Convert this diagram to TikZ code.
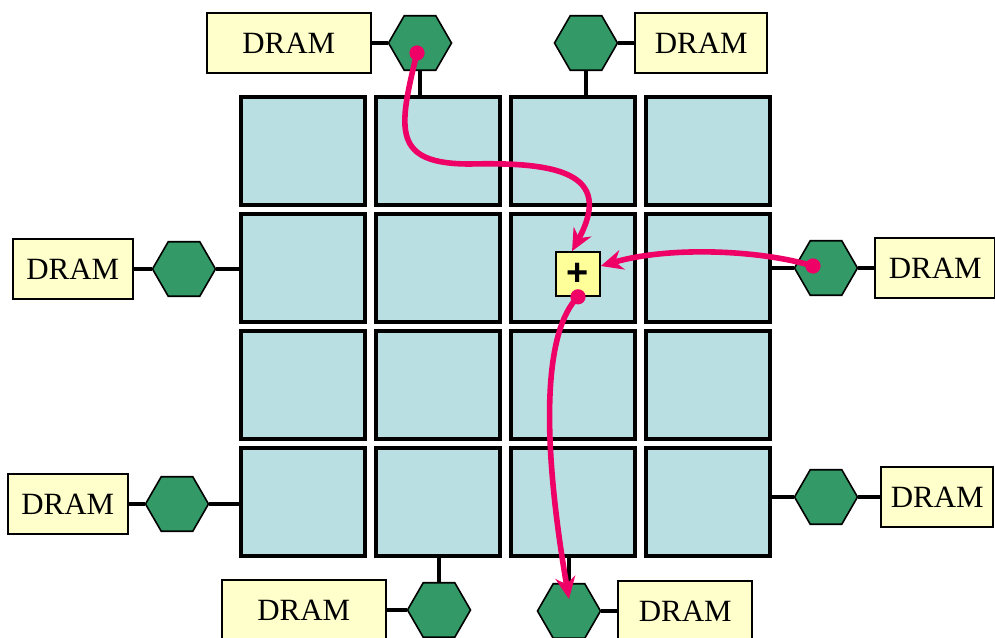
\documentclass[tikz,border=0pt]{standalone}
\usepackage{fontspec}
\setmainfont{Liberation Serif}
\newfontfamily\plusfont{Liberation Sans}
\usetikzlibrary{shapes.geometric,positioning,arrows.meta,calc}
\definecolor{tilecol}{HTML}{B9DFE3}
\definecolor{hexcol}{HTML}{339966}
\definecolor{dramcol}{HTML}{FFFFCC}
\definecolor{addcol}{HTML}{FFFF99}
\definecolor{flowcol}{HTML}{EE0066}

\begin{document}
\begin{tikzpicture}[x=0.025cm, y=-0.025cm, node distance=0.4cm,
    tilebox/.style={rectangle, draw, line width=0.1cm, fill=tilecol, minimum width=3.075cm, minimum height=2.675cm, inner sep=0pt},
    hexport/.style={regular polygon, regular polygon sides=6, draw, line width=0.04cm, fill=hexcol, minimum size=1.575cm, inner sep=0pt},
    drambox/.style={rectangle, draw, line width=0.04cm, fill=dramcol, minimum height=1.5cm, font=\fontsize{22}{24}\selectfont},
    addbox/.style={rectangle, draw, line width=0.04cm, fill=addcol, minimum size=1.1cm, inner sep=0pt, font=\plusfont\bfseries\fontsize{27}{28}\selectfont},
    link/.style={line width=0.08cm},
    flow/.style={draw=flowcol, line width=0.14cm, -{Stealth[length=0.55cm,width=0.5cm]}}]

    \useasboundingbox (0,0) rectangle (995,638);

    % 4x4 array of tiles, t<col><row>
    \foreach \c in {1,...,4}
        \foreach \r in {1,...,4}
            \node [tilebox] (t\c\r) at ({303+135*(\c-1)},{151+117*(\r-1)}) {};

    % memory ports
    \node [hexport] (hexN1) at (420,43) {};
    \node [hexport] (hexN2) at (586,43) {};
    \node [hexport] (hexW1) at (184,269) {};
    \node [hexport] (hexW2) at (177,504) {};
    \node [hexport] (hexE1) at (826,268) {};
    \node [hexport] (hexE2) at (826,497) {};
    \node [hexport] (hexS1) at (439,610) {};
    \node [hexport] (hexS2) at (569,611) {};

    % DRAM banks
    \node [drambox, minimum width=4.1cm, left=of hexN1] (dramN1) {DRAM\hspace{0.5cm}};
    \node [drambox, minimum width=3.3cm, right=of hexN2] (dramN2) {DRAM\hspace{0.3cm}};
    \node [drambox, minimum width=3.0cm, left=0.45cm of hexW1] (dramW1) {DRAM};
    \node [drambox, minimum width=3.0cm, left=of hexW2] (dramW2) {DRAM};
    \node [drambox, minimum width=3.0cm, right=of hexE1] (dramE1) {DRAM};
    \node [drambox, minimum width=2.8cm, right=0.55cm of hexE2] (dramE2) {DRAM};
    \node [drambox, minimum width=4.1cm, left=0.5cm of hexS1] (dramS1) {DRAM\hspace{0.3cm}};
    \node [drambox, minimum width=3.35cm, right=of hexS2] (dramS2) {DRAM};

    % wires: bank to port, port to edge tile
    \foreach \p in {N1,N2,W1,W2,E1,E2,S1,S2}
        \draw [link] (dram\p) -- (hex\p);
    \draw [link] (hexN1.south) -- (hexN1.south |- t21.north);
    \draw [link] (hexN2.south) -- (hexN2.south |- t31.north);
    \draw [link] (hexW1.east) -- (hexW1.east -| t12.west);
    \draw [link] (hexW2.east) -- (hexW2.east -| t14.west);
    \draw [link] (hexE1.west) -- (hexE1.west -| t42.east);
    \draw [link] (hexE2.west) -- (hexE2.west -| t44.east);
    \draw [link] (hexS1.north) -- (hexS1.north |- t24.south);
    \draw [link] (hexS2.north) -- (hexS2.north |- t34.south);

    % adder in tile (3,2)
    \node [addbox] (adder) at (578,274) {+};

    % operand and result paths
    \coordinate (srcN) at (417,53);
    \coordinate (srcE) at (813,266);
    \draw [flow] (srcN) .. controls (398,130) and (392,164) .. (470,164)
        .. controls (555,162) and (615,172) .. ([xshift=-0.15cm]adder.north);
    \draw [flow] (srcE) .. controls (760,250) and (670,246) .. ([yshift=0.2cm]adder.east);
    \draw [flow] (adder.south) .. controls (545,330) and (540,430) .. ([yshift=0.3cm]hexS2.center);
    \fill [flowcol] (srcN) circle (0.19cm);
    \fill [flowcol] (srcE) circle (0.19cm);
    \fill [flowcol] (adder.south) circle (0.19cm);
\end{tikzpicture}
\end{document}
